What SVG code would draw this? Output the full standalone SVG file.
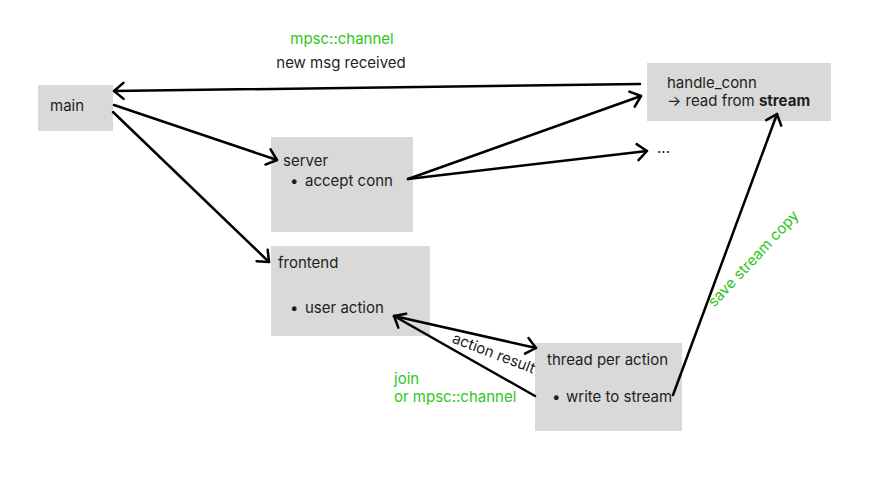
<svg xmlns="http://www.w3.org/2000/svg" width="870" height="498" viewBox="0 0 870 498">
<style>
.box{fill:#d9d9d9}
text{font-family:Inter,"Noto Sans","Liberation Sans",sans-serif;font-size:15px;fill:#1e1e1e}
.g{fill:#2fc61a}
.b{font-weight:bold}
.c{stroke:#000;stroke-width:2.5;fill:none;stroke-linecap:round;marker-end:url(#ah)}
</style>
<defs>
<marker id="ah" markerUnits="userSpaceOnUse" markerWidth="20" markerHeight="20" viewBox="0 0 20 20" refX="15" refY="10" orient="auto">
<path d="M5.5,2 L15,10 L5.5,18" fill="none" stroke="#000" stroke-width="2.5" stroke-linecap="round" stroke-linejoin="round"/>
</marker>
</defs>
<rect width="870" height="498" fill="#fff"/>
<g id="main"><rect class="box" x="38" y="85" width="75" height="46"/><text x="50" y="111">main</text></g>
<g id="server"><rect class="box" x="271" y="137" width="142" height="95"/><text x="283" y="166">server</text><text x="290" y="186">•</text><text x="305" y="186">accept conn</text></g>
<g id="handle_conn"><rect class="box" x="647" y="63" width="184" height="58"/><text x="667" y="88">handle_conn</text><text x="667" y="106">→ read from <tspan class="b">stream</tspan></text></g>
<g id="more"><text x="657" y="153">...</text></g>
<g id="frontend"><rect class="box" x="271" y="246" width="159" height="90"/><text x="278" y="268">frontend</text><text x="290" y="313">•</text><text x="305" y="313">user action</text></g>
<g id="thread"><rect class="box" x="535" y="343" width="147" height="88"/><text x="547" y="365">thread per action</text><text x="552" y="402">•</text><text x="566" y="402">write to stream</text></g>
<g id="connectors">
<path class="c" d="M640,84 L114,91"/>
<path class="c" d="M114,105 L277,160"/>
<path class="c" d="M113,112 L269,262"/>
<path class="c" d="M408,179 L641,96"/>
<path class="c" d="M408,179 L647,151"/>
<path class="c" d="M394,316 L536,348"/>
<path class="c" d="M535,396 L394,316"/>
<path class="c" d="M673,395 L777,114"/>
</g>
<g id="labels">
<text class="g" x="342" y="44" text-anchor="middle">mpsc::channel</text>
<text x="341" y="68" text-anchor="middle">new msg received</text>
<text x="492" y="358" text-anchor="middle" transform="rotate(21 492 358)">action result</text>
<text class="g" x="394" y="384">join</text>
<text class="g" x="394" y="402">or mpsc::channel</text>
<text class="g" x="757" y="262" text-anchor="middle" transform="rotate(-47 757 262)">save stream copy</text>
</g>
</svg>
